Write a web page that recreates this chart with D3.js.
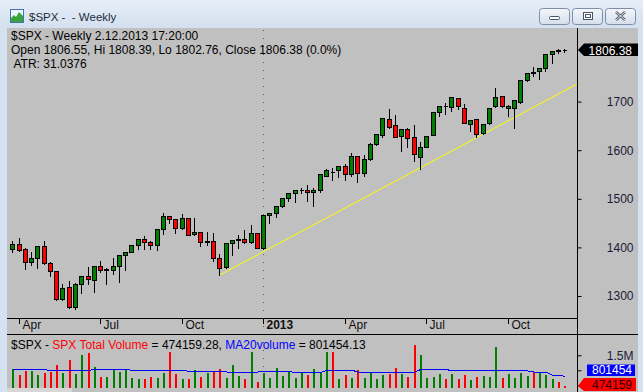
<!DOCTYPE html>
<html><head><meta charset="utf-8">
<script src="https://cdn.jsdelivr.net/npm/d3@7"></script>
<style>html,body{margin:0;padding:0;background:#d4e1f0;overflow:hidden}svg{display:block;font-family:"Liberation Sans",Arial,sans-serif}text{white-space:pre}</style>
</head><body><svg id="c" width="643" height="392"></svg>
<script>
const weeks = ["2012-03-26","2012-04-02","2012-04-09","2012-04-16","2012-04-23","2012-04-30","2012-05-07","2012-05-14","2012-05-21","2012-05-28","2012-06-04","2012-06-11","2012-06-18","2012-06-25","2012-07-02","2012-07-09","2012-07-16","2012-07-23","2012-07-30","2012-08-06","2012-08-13","2012-08-20","2012-08-27","2012-09-03","2012-09-10","2012-09-17","2012-09-24","2012-10-01","2012-10-08","2012-10-15","2012-10-22","2012-10-29","2012-11-05","2012-11-12","2012-11-19","2012-11-26","2012-12-03","2012-12-10","2012-12-17","2012-12-24","2012-12-31","2013-01-07","2013-01-14","2013-01-21","2013-01-28","2013-02-04","2013-02-11","2013-02-18","2013-02-25","2013-03-04","2013-03-11","2013-03-18","2013-03-25","2013-04-01","2013-04-08","2013-04-15","2013-04-22","2013-04-29","2013-05-06","2013-05-13","2013-05-20","2013-05-27","2013-06-03","2013-06-10","2013-06-17","2013-06-24","2013-07-01","2013-07-08","2013-07-15","2013-07-22","2013-07-29","2013-08-05","2013-08-12","2013-08-19","2013-08-26","2013-09-02","2013-09-09","2013-09-16","2013-09-23","2013-09-30","2013-10-07","2013-10-14","2013-10-21","2013-10-28","2013-11-04","2013-11-11","2013-11-18","2013-11-25","2013-12-02"];
const openP = [1396.1,1407.0,1396.1,1369.3,1377.6,1402.3,1367.9,1350.8,1293.2,1317.9,1276.7,1324.1,1340.5,1332.3,1361.1,1353.0,1354.1,1361.1,1383.7,1389.9,1404.3,1416.7,1410.5,1404.3,1437.2,1464.0,1457.8,1439.3,1459.9,1427.0,1431.1,1410.5,1412.5,1377.6,1359.1,1408.4,1414.6,1417.3,1411.7,1429.0,1399.4,1466.0,1470.2,1484.6,1501.0,1511.3,1517.5,1517.5,1513.4,1517.5,1546.3,1555.0,1558.6,1566.9,1551.6,1587.4,1553.7,1581.3,1612.1,1631.3,1663.6,1651.8,1629.2,1643.0,1627.8,1586.6,1607.2,1631.9,1678.0,1691.6,1688.3,1706.8,1686.2,1653.3,1663.6,1634.8,1655.3,1690.3,1710.9,1686.2,1686.2,1698.5,1743.8,1760.3,1762.4,1768.5,1797.3,1805.6,1806.55];
const highP = [1413.8,1419.3,1398.0,1390.5,1402.3,1413.2,1370.6,1352.0,1324.7,1330.9,1326.7,1340.5,1359.1,1361.1,1372.0,1358.2,1377.6,1384.4,1389.9,1404.3,1416.7,1423.5,1412.6,1437.2,1470.2,1465.0,1458.5,1468.1,1461.0,1460.5,1432.0,1431.1,1430.2,1385.8,1408.4,1414.6,1425.0,1435.8,1446.1,1430.0,1466.0,1470.2,1484.6,1501.0,1511.3,1517.5,1522.2,1528.4,1521.6,1551.0,1561.3,1562.8,1566.9,1571.0,1593.6,1588.0,1590.1,1614.2,1632.7,1665.6,1684.8,1672.4,1643.0,1645.0,1651.2,1616.3,1629.8,1678.0,1690.3,1696.5,1708.8,1707.5,1695.1,1661.5,1664.8,1653.9,1686.2,1727.4,1712.0,1692.4,1702.7,1743.8,1759.5,1770.6,1768.5,1797.3,1803.5,1808.8,1808.39];
const lowP = [1391.2,1393.2,1356.2,1364.4,1358.2,1365.0,1341.8,1291.5,1292.0,1276.0,1272.6,1306.8,1324.1,1308.8,1348.8,1325.3,1344.6,1329.4,1354.1,1389.9,1397.3,1397.3,1397.3,1395.3,1428.2,1449.6,1430.2,1438.0,1425.0,1426.0,1403.5,1405.5,1372.6,1342.6,1358.0,1385.0,1398.1,1410.0,1410.0,1399.4,1396.7,1450.8,1463.2,1484.0,1495.5,1494.0,1511.3,1496.1,1485.2,1513.4,1546.0,1538.7,1545.5,1538.7,1547.5,1535.2,1547.5,1580.0,1611.0,1627.8,1646.0,1627.8,1599.0,1607.2,1578.4,1560.7,1606.0,1631.0,1671.0,1675.1,1680.7,1685.4,1655.3,1640.1,1627.8,1632.7,1654.0,1689.0,1688.0,1671.0,1646.3,1697.0,1742.0,1753.3,1747.1,1762.4,1778.8,1800.6,1802.76];
const closeP = [1407.0,1395.3,1369.3,1377.6,1402.3,1367.3,1350.8,1293.2,1315.8,1276.7,1324.1,1340.5,1334.4,1361.1,1352.9,1355.5,1361.1,1384.4,1389.9,1404.3,1416.7,1410.5,1404.3,1437.2,1464.0,1457.8,1439.3,1459.9,1426.1,1431.1,1410.5,1412.5,1377.6,1357.0,1408.4,1414.6,1416.7,1411.7,1429.0,1399.4,1466.0,1470.2,1484.6,1501.0,1511.3,1517.5,1518.8,1513.4,1517.5,1551.0,1558.6,1554.5,1566.9,1551.6,1587.4,1553.7,1581.3,1612.1,1632.7,1665.6,1648.3,1627.8,1643.0,1624.5,1591.6,1606.0,1629.8,1678.0,1690.3,1690.3,1708.8,1690.3,1655.3,1661.5,1632.7,1653.9,1686.2,1708.8,1690.3,1690.3,1702.7,1743.8,1758.2,1759.5,1768.5,1797.3,1803.5,1804.0,1806.38];
const volume = [1053000,843000,987000,977000,843000,900000,953000,1177000,900000,1343000,887000,1510000,1587000,1110000,777000,777000,1053000,943000,1033000,733000,700000,700000,777000,753000,920000,1610000,887000,720000,700000,1000000,787000,900000,953000,1033000,753000,1167000,810000,720000,1620000,610000,900000,753000,1087000,810000,943000,753000,943000,833000,1033000,900000,1620000,1620000,720000,833000,753000,1000000,753000,900000,720000,833000,867000,1087000,887000,787000,1843000,1510000,753000,787000,887000,720000,867000,720000,843000,667000,787000,810000,777000,1777000,753000,887000,753000,900000,810000,943000,920000,833000,700000,620000,474159];
const ma20 = [1030000,1030000,1030000,1030000,1030000,1030000,977000,977000,1000000,1000000,1000000,1000000,1000000,1030000,1030000,1030000,1030000,1030000,1030000,1000000,1000000,1000000,977000,977000,977000,977000,1000000,1000000,967000,967000,967000,967000,967000,967000,943000,943000,943000,943000,943000,943000,955000,955000,955000,955000,955000,930000,930000,930000,930000,930000,1000000,1000000,1000000,1000000,1000000,943000,943000,943000,943000,943000,943000,943000,943000,943000,943000,1033000,1033000,1033000,1033000,1033000,977000,977000,977000,977000,977000,977000,977000,977000,977000,977000,977000,977000,977000,943000,943000,943000,833000,833000,801454];
const priceTicks = [1300,1400,1500,1600,1700];
const volTicks = [500000,1000000,1500000];
const volTickLabels = ["","","1.5M"];
const monthTickDates = ["2012-04-02","2012-07-02","2012-10-01","2012-12-31","2013-04-01","2013-07-01","2013-09-30"];
const monthTickLabels = ["Apr","Jul","Oct","2013","Apr","Jul","Oct"];
const trendDates = ["2012-11-12","2013-12-16"];
const trendValues = [1342.6,1736.0];

const svg = d3.select("#c");
const parse = d3.timeParse("%Y-%m-%d");
const dates = weeks.map(parse);
const x = d3.scaleTime().domain([dates[0], dates[dates.length-1]]).range([12.3, 564.3]);
const y = d3.scaleLinear().domain([1300,1700]).range([296,101.6]);
const vy = d3.scaleLinear().domain([0,1500000]).range([400.3,355.3]);
const GREEN="#008000", RED="#ff0000";
const AX=577.5;

const defs = svg.append("defs");
const tg = defs.append("linearGradient").attr("id","tg").attr("x1",0).attr("y1",0).attr("x2",0).attr("y2",1);
tg.append("stop").attr("offset","0").attr("stop-color","#e6eef8");
tg.append("stop").attr("offset","1").attr("stop-color","#d3e0ef");
const bg = defs.append("linearGradient").attr("id","bg").attr("x1",0).attr("y1",0).attr("x2",0).attr("y2",1);
bg.append("stop").attr("offset","0").attr("stop-color","#f4f7fb");
bg.append("stop").attr("offset","1").attr("stop-color","#d5deea");
defs.append("clipPath").attr("id","cp").append("rect").attr("x",7).attr("y",28).attr("width",AX-7).attr("height",290);
defs.append("clipPath").attr("id","cv").append("rect").attr("x",7).attr("y",335).attr("width",AX-7).attr("height",53);

// window frame
svg.append("rect").attr("width",643).attr("height",392).attr("fill","#d4e1f0");
svg.append("rect").attr("width",643).attr("height",28).attr("fill","url(#tg)");
svg.append("rect").attr("x",7).attr("y",28).attr("width",631).attr("height",364).attr("fill","#c0c0c0");
svg.append("rect").attr("x",7).attr("y",388).attr("width",65).attr("height",4).attr("fill","#d6d6d6");

// title icon
const ic = svg.append("g");
ic.append("rect").attr("x",10.5).attr("y",9.5).attr("width",13).attr("height",13).attr("fill","#eef4fb").attr("stroke","#3c74b4");
ic.append("path").attr("d","M11 22 L11 18 L14 15 L16 17 L19 12 L23 16 L23 22 Z").attr("fill","#3aa33a");
svg.append("text").attr("x",29).attr("y",21).attr("font-size","11.5px").attr("fill","#1e2a3a").text("$SPX -  - Weekly");

// window buttons
const btns=[539.5,572.5,605.5];
btns.forEach((bx,i)=>{
  svg.append("rect").attr("x",bx).attr("y",8.5).attr("width",30).attr("height",16).attr("rx",3).attr("fill","url(#bg)").attr("stroke","#7d8ea6");
});
svg.append("rect").attr("x",549.5).attr("y",16.5).attr("width",10).attr("height",3).attr("rx",1).attr("fill","#fff").attr("stroke","#4a5568");
svg.append("rect").attr("x",583.5).attr("y",12.5).attr("width",9).attr("height",7).attr("fill","#fff").attr("stroke","#4a5568");
svg.append("rect").attr("x",585.5).attr("y",14.5).attr("width",5).attr("height",3).attr("fill","none").attr("stroke","#4a5568");
svg.append("path").attr("d","M616 12 L625 20 M625 12 L616 20").attr("stroke","#4a5568").attr("stroke-width",2.4);
svg.append("path").attr("d","M616 12 L625 20 M625 12 L616 20").attr("stroke","#fff").attr("stroke-width",0.9);

// 2013 dotted separator
const sepX = Math.round(x(parse("2012-12-31")))+0.5;
svg.append("line").attr("x1",sepX).attr("x2",sepX).attr("y1",30).attr("y2",388)
  .attr("stroke","#555").attr("stroke-dasharray","1,7");

// trendline
const tl = d3.line().x((d,i)=>x(parse(d))).y((d,i)=>y(trendValues[i]));
svg.append("path").attr("clip-path","url(#cp)").attr("d",tl(trendDates)).attr("fill","none").attr("stroke","#ffff00").attr("stroke-width",1);

// candles
const cg = svg.append("g").attr("clip-path","url(#cp)").attr("shape-rendering","crispEdges");
dates.forEach((d,i)=>{
  const cx = Math.round(x(d));
  const o=openP[i], c=closeP[i], h=highP[i], l=lowP[i];
  const up = c>=o;
  cg.append("line").attr("x1",cx+0.5).attr("x2",cx+0.5).attr("y1",Math.round(y(h))).attr("y2",Math.round(y(l))+1).attr("stroke","#000");
  const t = Math.round(y(Math.max(o,c)))+0.5, b = Math.round(y(Math.min(o,c)))+0.5;
  cg.append("path").attr("d",`M${cx-1.5},${t}H${cx+2.5}V${b}H${cx-1.5}Z`).attr("fill",up?GREEN:RED).attr("stroke","#000");
});

// axes lines
svg.append("line").attr("x1",7).attr("x2",AX).attr("y1",318.5).attr("y2",318.5).attr("stroke","#000");
svg.append("line").attr("x1",7).attr("x2",638).attr("y1",334.5).attr("y2",334.5).attr("stroke","#000");
svg.append("line").attr("x1",AX).attr("x2",AX).attr("y1",28).attr("y2",392).attr("stroke","#000");

// price axis
const pa = svg.append("g").attr("transform",`translate(${AX},0)`)
  .call(d3.axisRight(y).tickValues(priceTicks).tickSize(4).tickFormat(d3.format("d")));
pa.select(".domain").remove();
pa.selectAll("line").attr("stroke","#000");
pa.selectAll("text").attr("x",56).attr("text-anchor","end").attr("font-size","12px").attr("font-family","Liberation Sans, Arial, sans-serif").attr("fill","#1a1a38");

// month axis
const ma = svg.append("g").attr("transform","translate(0,318)")
  .call(d3.axisBottom(x).tickValues(monthTickDates.map(parse)).tickSize(6).tickFormat((d,i)=>monthTickLabels[i]));
ma.select(".domain").remove();
ma.selectAll(".tick").attr("transform",d=>`translate(${Math.round(x(d))+0.5},0)`);
ma.selectAll("line").attr("stroke","#000");
ma.selectAll("text").attr("x",3).attr("y",11).attr("dy",0).attr("text-anchor","start").attr("font-size","12px")
  .attr("font-family","Liberation Sans, Arial, sans-serif").attr("fill","#111")
  .attr("font-weight",(d,i)=>monthTickLabels[i]==="2013"?"bold":"normal");

// last price box
const lp = closeP[closeP.length-1];
const ly = Math.round(y(lp));
svg.append("path").attr("d",`M578,${ly} L584,${ly-6.5} L638,${ly-6.5} L638,${ly+6} L584,${ly+6} Z`).attr("fill","#000");
svg.append("text").attr("x",632).attr("y",ly+4.5).attr("text-anchor","end").attr("font-size","12px").attr("fill","#fff").text(d3.format(".2f")(lp));

// volume bars
const vg = svg.append("g").attr("clip-path","url(#cv)").attr("shape-rendering","crispEdges");
dates.forEach((d,i)=>{
  const cx = Math.round(x(d));
  const top = Math.round(vy(volume[i]));
  vg.append("rect").attr("x",cx).attr("y",top).attr("width",2).attr("height",400-top)
    .attr("fill",closeP[i]>=openP[i]?GREEN:RED);
});
const mline = d3.line().x((d,i)=>Math.round(x(dates[i]))+1).y(d=>vy(d));
vg.append("path").attr("d",mline(ma20)).attr("fill","none").attr("stroke","#0000ff").attr("stroke-width",1);

// volume axis
const va = svg.append("g").attr("transform",`translate(${AX},0)`)
  .call(d3.axisRight(vy).tickValues(volTicks).tickSize(4).tickFormat((d,i)=>volTickLabels[i]));
va.select(".domain").remove();
va.selectAll("line").attr("stroke","#000");
va.selectAll("text").attr("x",56).attr("text-anchor","end").attr("font-size","12px").attr("font-family","Liberation Sans, Arial, sans-serif").attr("fill","#1a1a38");

// volume value boxes
const vLast = volume[volume.length-1], mLast = ma20[ma20.length-1];
const vly = vy(vLast);
svg.append("path").attr("d",`M578,${vly} L584,${vly-8} L636,${vly-8} L636,${vly+5} L584,${vly+5} Z`).attr("fill","#ff0000");
svg.append("text").attr("x",632).attr("y",vly+3).attr("text-anchor","end").attr("font-size","12px").attr("fill","#2a0000").text(d3.format("d")(vLast));
svg.append("rect").attr("x",587).attr("y",364.5).attr("width",48).attr("height",11.5).attr("fill","#0000ff");
svg.append("text").attr("x",632).attr("y",374.3).attr("text-anchor","end").attr("font-size","12px").attr("fill","#fff").text(d3.format("d")(Math.round(mLast)));

// header texts
const tx = svg.append("g").attr("font-size","12px").attr("fill","#000");
tx.append("text").attr("x",11).attr("y",39.5).text("$SPX - Weekly 2.12.2013 17:20:00");
tx.append("text").attr("x",11).attr("y",53.8).text(`Open ${openP[88].toFixed(2)}, Hi ${highP[88].toFixed(2)}, Lo ${lowP[88].toFixed(2)}, Close ${closeP[88].toFixed(2)} (0.0%)`);
tx.append("text").attr("x",13.5).attr("y",67.8).text("ATR: 31.0376");
const vt = tx.append("text").attr("x",11).attr("y",348.5);
vt.append("tspan").text("$SPX - ");
vt.append("tspan").attr("fill","#ff0000").text("SPX Total Volume");
vt.append("tspan").text(" = 474159.28, ");
vt.append("tspan").attr("fill","#0000ff").text("MA20volume");
vt.append("tspan").text(" = 801454.13");
</script></body></html>
